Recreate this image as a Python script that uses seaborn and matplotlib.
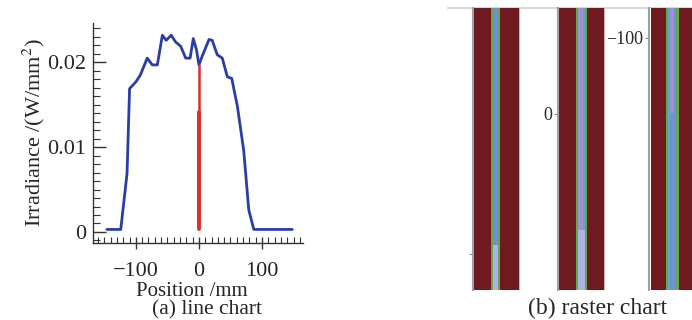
import numpy as np
import matplotlib
matplotlib.use("Agg")
import matplotlib.pyplot as plt
import seaborn as sns
from matplotlib.colors import ListedColormap
from matplotlib.ticker import MultipleLocator, FixedLocator, FixedFormatter

# ---- (a) line chart data ----
position_mm = [-146, -124, -114, -110, -100, -93, -82, -74, -66, -58, -52, -44, -37,
               -29, -21, -14, -9, -4, 0, 5, 16, 21, 29, 37, 45, 52, 61, 71, 79, 87, 148]
irradiance = [0.0003, 0.0003, 0.0069, 0.0169, 0.0177, 0.0185, 0.0205, 0.0197, 0.0197,
              0.0232, 0.0226, 0.0232, 0.0224, 0.0219, 0.0205, 0.0205, 0.0228, 0.0215,
              0.0197, 0.0207, 0.0227, 0.0226, 0.0209, 0.0205, 0.0183, 0.0181, 0.0148,
              0.0096, 0.0026, 0.0003, 0.0003]
marker_x = [0, 0]
marker_y_low = [0.0003, 0.0142]
marker_y_high = [0.0142, 0.0197]
x_ticks = [-100, 0, 100]
x_ticklabels = ["\u2212100", "0", "100"]
y_ticks = [0, 0.01, 0.02]
y_ticklabels = ["0", "0.01", "0.02"]

# ---- (b) raster chart data ----
# colour codes: 0 dark red, 1 green, 2 blue, 3 purple, 4 light lavender, 5 pink edge, 6 white, 7 teal
raster_colors = ["#6e1a1f", "#62a94b", "#6f8fd6", "#a38fd4", "#aeb2e4", "#dcaeb2", "#ffffff", "#5fa8bc"]

strip_a_widths = [18, 2, 5, 2, 18, 1]
strip_a_top = [0, 1, 2, 1, 0, 5]
strip_a_bottom = [0, 1, 4, 1, 0, 5]
strip_a_split = 237          # row where the core changes shade
strip_a_range = (-145, 137)  # mm, top to bottom
strip_a_tick = [100]
strip_a_ticklabels = [""]

strip_b_widths = [18, 2, 5, 2, 2, 16, 1]
strip_b_top = [0, 1, 3, 7, 1, 0, 5]
strip_b_bottom = [0, 1, 4, 4, 1, 0, 5]
strip_b_split = 222
strip_b_range = (-105, 177)
strip_b_tick = [0]
strip_b_ticklabels = ["0"]

strip_c_widths = [2, 15, 2, 2, 4, 2, 3, 18]
strip_c_top = [6, 0, 1, 7, 3, 2, 1, 0]
strip_c_bottom = [6, 0, 1, 7, 2, 2, 1, 0]
strip_c_split = 105
strip_c_range = (-129, 153)
strip_c_tick = [-100]
strip_c_ticklabels = ["\u2212100"]

sns.set_style("ticks")
plt.rcParams["font.family"] = ["Liberation Serif", "DejaVu Serif"]
plt.rcParams["mathtext.fontset"] = "stix"

fig = plt.figure(figsize=(6.92, 3.2), dpi=100)

# ---------------- line chart ----------------
ax = fig.add_axes([93 / 692, 1 - 243 / 320, 210 / 692, 220 / 320])
sns.lineplot(x=position_mm, y=irradiance, color="#2b3ea6", lw=2.0, ax=ax,
             sort=False, estimator=None)
sns.lineplot(x=marker_x, y=marker_y_low, color="#de2b2b", lw=2.8, ax=ax,
             sort=False, estimator=None)
sns.lineplot(x=marker_x, y=marker_y_high, color="#de2b2b", lw=1.8, ax=ax,
             sort=False, estimator=None)
ax.set_xlim(-168, 165)
ax.set_ylim(-0.0013, 0.02464)
for s in ["top", "right"]:
    ax.spines[s].set_visible(False)
for s in ["left", "bottom"]:
    ax.spines[s].set_color("#333333")
    ax.spines[s].set_linewidth(1.0)
ax.xaxis.set_major_locator(FixedLocator(x_ticks))
ax.xaxis.set_major_formatter(FixedFormatter(x_ticklabels))
ax.xaxis.set_minor_locator(MultipleLocator(10))
ax.yaxis.set_major_locator(FixedLocator(y_ticks))
ax.yaxis.set_major_formatter(FixedFormatter(y_ticklabels))
ax.yaxis.set_minor_locator(MultipleLocator(0.001))
ax.tick_params(axis="x", which="major", direction="inout", length=8, width=1,
               color="#333333", pad=10, labelsize=16)
ax.tick_params(axis="x", which="minor", direction="in", length=4, width=0.8, color="#333333")
ax.tick_params(axis="y", which="major", direction="in", length=9, width=1,
               color="#333333", pad=5, labelsize=16)
ax.tick_params(axis="y", which="minor", direction="in", length=5, width=0.8, color="#333333")
ax.set_xlabel("Position /mm", fontsize=15, va="baseline")
ax.xaxis.set_label_coords((192 - 93) / 210, (243 - 296) / 220)
ax.set_ylabel("Irradiance /(W/mm$^2$)", fontsize=16, labelpad=0)
fig.text(207 / 692, 1 - 314 / 320, "(a) line chart", ha="center", va="baseline", fontsize=15.5)

# ---------------- raster chart ----------------
frame = fig.add_axes([448 / 692, 1 - 290 / 320, 244 / 692, 282 / 320])
frame.set_xticks([])
frame.set_yticks([])
for s in ["left", "right", "bottom"]:
    frame.spines[s].set_visible(False)
frame.spines["top"].set_color("#cfcfcf")
frame.spines["top"].set_linewidth(1.2)
frame.patch.set_alpha(0)

cmap = ListedColormap(raster_colors)
strips = [
    (472, strip_a_widths, strip_a_top, strip_a_bottom, strip_a_split, strip_a_range,
     strip_a_tick, strip_a_ticklabels),
    (557, strip_b_widths, strip_b_top, strip_b_bottom, strip_b_split, strip_b_range,
     strip_b_tick, strip_b_ticklabels),
    (648, strip_c_widths, strip_c_top, strip_c_bottom, strip_c_split, strip_c_range,
     strip_c_tick, strip_c_ticklabels),
]
for left_px, widths, top, bottom, split, yr, ticks, labels in strips:
    n_rows = yr[1] - yr[0]
    row_top = np.repeat(top, widths)
    row_bottom = np.repeat(bottom, widths)
    grid = np.vstack([np.tile(row_top, (split, 1)),
                      np.tile(row_bottom, (n_rows - split, 1))])
    sax = fig.add_axes([left_px / 692 + 0.001, 1 - 290 / 320, (sum(widths) + 1) / 692, 282 / 320])
    sns.heatmap(grid, cmap=cmap, vmin=-0.5, vmax=len(raster_colors) - 0.5, cbar=False,
                xticklabels=False, yticklabels=False, ax=sax)
    sax.set_yticks([t - yr[0] + 0.5 for t in ticks])
    sax.set_yticklabels(labels, rotation=0, fontsize=13)
    sax.tick_params(axis="y", direction="out", length=3, width=0.8, color="#888888", pad=1)
    sax.spines["left"].set_visible(True)
    sax.spines["left"].set_color("#a0a0a0")
    sax.spines["left"].set_linewidth(1.5)

fig.text(598 / 692, 1 - 314 / 320, "(b) raster chart", ha="center", va="baseline", fontsize=17)

fig.savefig("out.png", dpi=100)
